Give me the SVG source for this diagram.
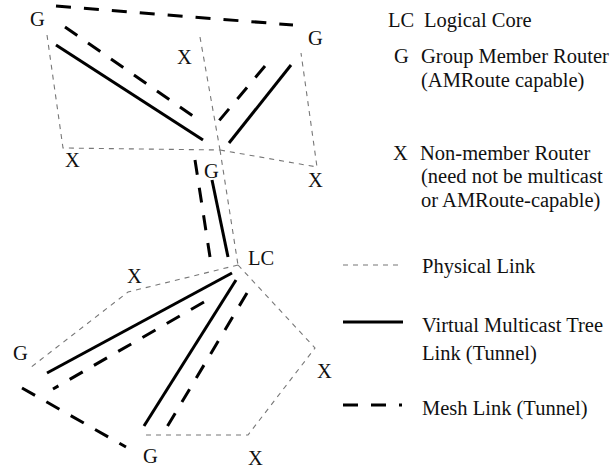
<svg xmlns="http://www.w3.org/2000/svg" width="613" height="470" viewBox="0 0 613 470">
<style>
text { font-family: "Liberation Serif", "Times New Roman", serif; font-size: 20.5px; fill: #111; }
.phys { stroke: #777; stroke-width: 1.1; stroke-dasharray: 5 5; fill: none; }
.tree { stroke: #000; stroke-width: 3; fill: none; }
.mesh { stroke: #000; stroke-width: 3; stroke-dasharray: 15 13; fill: none; }
</style>
<rect width="613" height="470" fill="#fff"/>
<g id="connectors">
  <polyline class="phys" points="47,35 63,148 220,150"/>
  <line class="phys" x1="200" y1="37" x2="220" y2="150"/>
  <polyline class="phys" points="220,150 317,167 301,53"/>
  <line class="phys" x1="220" y1="150" x2="238" y2="265"/>
  <polyline class="phys" points="238,265 128,292 30,368"/>
  <polyline class="phys" points="238,265 315,348 248,435 143,435"/>
  <line class="tree" x1="56" y1="45" x2="203" y2="140"/>
  <line class="tree" x1="291" y1="65" x2="229" y2="143"/>
  <line class="tree" x1="212" y1="180" x2="228" y2="257"/>
  <line class="tree" x1="232" y1="273" x2="47" y2="373"/>
  <line class="tree" x1="236" y1="280" x2="144" y2="426"/>
  <line class="mesh" x1="56" y1="6" x2="293" y2="25"/>
  <line class="mesh" x1="65" y1="27" x2="193" y2="116"/>
  <line class="mesh" x1="265" y1="66" x2="218" y2="122"/>
  <line class="mesh" x1="195" y1="160" x2="210" y2="257"/>
  <line class="mesh" x1="204" y1="302" x2="53" y2="389"/>
  <line class="mesh" x1="247" y1="293" x2="167" y2="427"/>
  <line class="mesh" x1="22" y1="388" x2="126" y2="447"/>
</g>
<g id="node-g-topleft"><text x="30" y="26">G</text></g>
<g id="node-x-top"><text x="177" y="64">X</text></g>
<g id="node-g-topright"><text x="308" y="45">G</text></g>
<g id="node-x-left"><text x="65" y="167">X</text></g>
<g id="node-g-hub"><text x="204" y="178">G</text></g>
<g id="node-x-right-top"><text x="308" y="187">X</text></g>
<g id="node-lc"><text x="248" y="265">LC</text></g>
<g id="node-x-upper"><text x="127" y="283">X</text></g>
<g id="node-g-left"><text x="13" y="360">G</text></g>
<g id="node-x-right"><text x="317" y="378">X</text></g>
<g id="node-g-bottom"><text x="143" y="463">G</text></g>
<g id="node-x-bottom"><text x="248" y="465">X</text></g>
<g id="legend">
  <text x="388" y="27">LC</text>
  <text x="424" y="27">Logical Core</text>
  <text x="394" y="63">G</text>
  <text x="421" y="63">Group Member Router</text>
  <text x="421" y="87">(AMRoute capable)</text>
  <text x="393" y="160">X</text>
  <text x="420" y="160">Non-member Router</text>
  <text x="421" y="183">(need not be multicast</text>
  <text x="421" y="207">or AMRoute-capable)</text>
  <line class="phys" x1="343" y1="265" x2="403" y2="265"/>
  <text x="422" y="273">Physical Link</text>
  <line class="tree" x1="343" y1="322" x2="403" y2="322"/>
  <text x="422" y="332">Virtual Multicast Tree</text>
  <text x="422" y="360">Link (Tunnel)</text>
  <line class="mesh" x1="343" y1="405" x2="402" y2="405"/>
  <text x="422" y="415">Mesh Link (Tunnel)</text>
</g>
</svg>
